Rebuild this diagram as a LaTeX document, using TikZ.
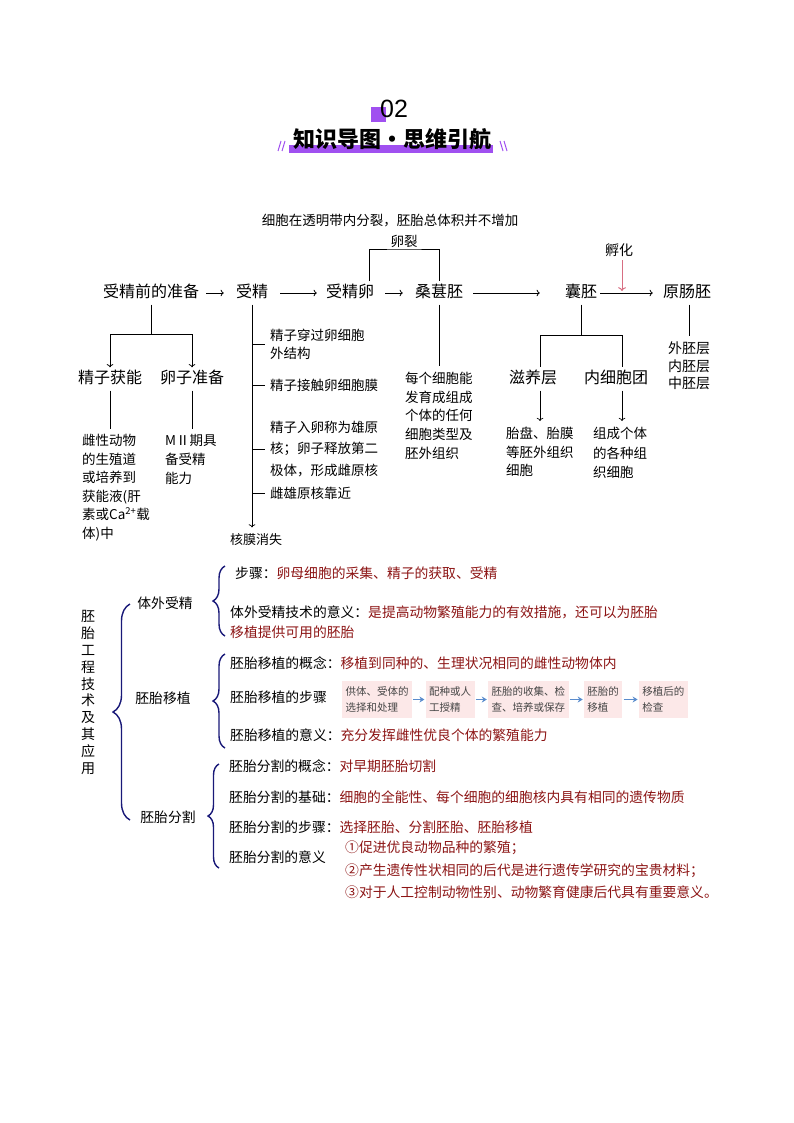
\documentclass[tikz,border=0pt]{standalone}
\usepackage{fontspec}
\setmainfont{Noto Sans CJK SC}
\newfontfamily\numfont{Liberation Sans}
\usetikzlibrary{positioning,decorations.pathreplacing,arrows.meta}

\definecolor{headpurple}{RGB}{160,80,240}
\definecolor{deepred}{RGB}{140,20,20}
\definecolor{bracenavy}{RGB}{25,25,120}
\definecolor{hatchred}{RGB}{215,110,130}
\definecolor{boxpink}{RGB}{252,232,232}
\definecolor{boxgray}{RGB}{70,70,70}
\definecolor{flowblue}{RGB}{90,140,205}

\newcommand{\hl}[1]{\textcolor{deepred}{#1}}

\tikzset{
  stage/.style={font=\fontsize{16}{18}\selectfont, inner xsep=0pt, inner ysep=4pt, text height=12pt, text depth=3pt},
  note/.style={font=\fontsize{13.5}{18.6}\selectfont, align=left, inner sep=0pt, anchor=north west},
  branch/.style={font=\fontsize{13.5}{21.5}\selectfont, align=left, inner xsep=5pt, inner ysep=0pt, anchor=west},
  item/.style={font=\fontsize{13.8}{20}\selectfont, inner sep=0pt, anchor=west, text height=11.5pt, text depth=2pt},
  part/.style={font=\fontsize{13.8}{16}\selectfont, inner sep=1pt},
  stepbox/.style={fill=boxpink, text=boxgray, font=\fontsize{10.5}{16.5}\selectfont, align=left, inner xsep=3.5pt, minimum height=37pt},
  flow/.style={draw=flowblue, line width=1.3pt, -{Stealth[length=5pt,width=6pt]}, shorten <=1pt, shorten >=1pt},
  curly/.style={draw=bracenavy, line width=1.4pt, decorate},
  link/.style={line width=0.7pt},
}

\begin{document}
\begin{tikzpicture}[x=1pt,y=-1pt,>=To]

    \useasboundingbox (0,0) rectangle (794,1123);

    % header
    \fill[headpurple] (371,107) rectangle (386,122);
    \node[font=\numfont\fontsize{25}{25}\selectfont] (num) at (394,109) {02};
    \fill[headpurple] (289,145) rectangle (493,153);
    \node[font=\bfseries\fontsize{22}{22}\selectfont] (title) at (392,139) {知识导图·思维引航};
    \draw[headpurple, line width=1pt] (278,151) -- (281,141) (282,151) -- (285,141);
    \draw[headpurple, line width=1pt] (500,141) -- (503,151) (504,141) -- (507,151);

    % main chain
    \node[stage] (prep) at (151,293) {受精前的准备};
    \node[stage] (fert) at (252,293) {受精};
    \node[stage] (zyg) at (350,293) {受精卵};
    \node[stage] (mor) at (439,293) {桑葚胚};
    \node[stage] (blast) at (581,293) {囊胚};
    \node[stage] (gast) at (687,293) {原肠胚};

    \draw[link,->,shorten <=7pt,shorten >=12pt] (prep) -- (fert);
    \draw[link,->,shorten <=12pt,shorten >=9pt] (fert) -- (zyg);
    \draw[link,->,shorten <=11pt,shorten >=12pt] (zyg) -- (mor);
    \draw[link,->,shorten <=10pt,shorten >=25pt] (mor) -- (blast);
    \draw[link,->,shorten <=3pt,shorten >=10pt] (blast) -- (gast);

    \node[font=\fontsize{13.5}{16}\selectfont] (caption) at (390,221) {细胞在透明带内分裂，胚胎总体积并不增加};
    \node[font=\fontsize{13.5}{16}\selectfont, anchor=south, inner sep=1pt] (cleave) at (404,249) {卵裂};
    \draw[link] ([xshift=-5pt]zyg.north east) |- (cleave.south) -| (mor.north);

    \node[font=\fontsize{14}{16}\selectfont] (hatch) at (619,250) {孵化};
    \draw[hatchred, line width=1pt, ->, shorten >=2pt] ([xshift=3pt]hatch.south) -- ([xshift=3pt]hatch.south |- blast.east);

    % before fertilization
    \draw[link] (prep.south) -- ++(0,30) coordinate (prepfork);
    \node[stage] (cap) at (110,379) {精子获能};
    \node[stage] (eggprep) at (192,379) {卵子准备};
    \draw[link,->] (prepfork) -| (cap.north);
    \draw[link,->] (prepfork) -| (eggprep.north);

    \node[note] (capnote) at (82,434) {雌性动物\\的生殖道\\或培养到\\获能液(肝\\素或Ca\textsuperscript{2+}载\\体)中};
    \node[note, font=\fontsize{13.5}{19}\selectfont] (eggnote) at (165,434) {MⅡ期具\\备受精\\能力};
    \draw[link,shorten >=5pt] (cap.south) -- (cap.south |- capnote.north);
    \draw[link,shorten >=5pt] (eggprep.south) -- (eggprep.south |- eggnote.north);

    % fertilization
    \node[branch, font=\fontsize{13.5}{18}\selectfont] (pass) at (265,344) {精子穿过卵细胞\\外结构};
    \node[branch] (touch) at (265,385) {精子接触卵细胞膜};
    \node[branch] (enter) at (265,449) {精子入卵称为雄原\\核；卵子释放第二\\极体，形成雌原核};
    \node[branch] (near) at (265,493) {雌雄原核靠近};
    \node[font=\fontsize{13}{16}\selectfont] (nucleus) at (256,540) {核膜消失};
    \draw[link,->,shorten >=3pt] (fert.south) -- (fert.south |- nucleus.north);
    \foreach \b in {pass,touch,enter,near}
        \draw[link] (\b.west -| fert.south) -- (\b.west);

    % morula
    \node[note] (mornote) at (405,372) {每个细胞能\\发育成组成\\个体的任何\\细胞类型及\\胚外组织};
    \draw[link,shorten >=6pt] (mor.south) -- (mor.south |- mornote.north);

    % blastocyst
    \draw[link] (blast.south) -- ++(0,31) coordinate (blastfork);
    \node[stage] (troph) at (533,379) {滋养层};
    \node[stage] (icm) at (616,379) {内细胞团};
    \draw[link] (blastfork) -| ([xshift=7pt]troph.north);
    \draw[link] (blastfork) -| ([xshift=6pt]icm.north);
    \node[note] (trophnote) at (506,427) {胎盘、胎膜\\等胚外组织\\细胞};
    \node[note, font=\fontsize{13.5}{19.5}\selectfont] (icmnote) at (593,427) {组成个体\\的各种组\\织细胞};
    \draw[link,->,shorten >=6pt] ([xshift=7pt]troph.south) -- ([xshift=7pt]troph.south |- trophnote.north);
    \draw[link,->,shorten >=6pt] ([xshift=6pt]icm.south) -- ([xshift=6pt]icm.south |- icmnote.north);

    % gastrula
    \node[note, font=\fontsize{14}{17.5}\selectfont] (germ) at (668,342) {外胚层\\内胚层\\中胚层};
    \draw[link,shorten >=6pt] ([xshift=2pt]gast.south) -- ([xshift=2pt]gast.south |- germ.north);

    % embryo engineering
    \node[font=\fontsize{14}{16.8}\selectfont, align=center, inner sep=0pt] (topic) at (88,692.5) {胚\\胎\\工\\程\\技\\术\\及\\其\\应\\用};
    \draw[curly, decoration={brace,amplitude=17pt}] (130,820) -- (130,604);

    \node[part] (ivf) at (165,603) {体外受精};
    \node[part] (transfer) at (163,698) {胚胎移植};
    \node[part] (split) at (168,817) {胚胎分割};

    \draw[curly, decoration={brace,amplitude=12pt}] (225,636) -- (225,566);
    \draw[curly, decoration={brace,amplitude=12pt}] (225,748) -- (225,654);
    \draw[curly, decoration={brace,amplitude=11pt}] (219,868) -- (219,764);

    \node[item] (ivfstep) at (235,574) {步骤：\hl{卵母细胞的采集、精子的获取、受精}};
    \node[font=\fontsize{13.8}{20}\selectfont, align=left, inner sep=0pt, anchor=north west] (ivfmean) at (230,606) {体外受精技术的意义：\hl{是提高动物繁殖能力的有效措施，还可以为胚胎}\\\hl{移植提供可用的胚胎}};

    \node[item] (etdef) at (230,664) {胚胎移植的概念：\hl{移植到同种的、生理状况相同的雌性动物体内}};
    \node[item] (etstep) at (230,698) {胚胎移植的步骤};
    \node[item] (etmean) at (230,736) {胚胎移植的意义：\hl{充分发挥雌性优良个体的繁殖能力}};

    \node[stepbox, anchor=west] (sb1) at (342,699.5) {供体、受体的\\选择和处理};
    \node[stepbox, right=13pt of sb1] (sb2) {配种或人\\工授精};
    \node[stepbox, right=13pt of sb2] (sb3) {胚胎的收集、检\\查、培养或保存};
    \node[stepbox, right=15pt of sb3] (sb4) {胚胎的\\移植};
    \node[stepbox, right=16pt of sb4] (sb5) {移植后的\\检查};
    \foreach \a/\b in {sb1/sb2,sb2/sb3,sb3/sb4,sb4/sb5}
        \draw[flow] (\a) -- (\b);

    \node[item] (esdef) at (229,767) {胚胎分割的概念：\hl{对早期胚胎切割}};
    \node[item] (esbase) at (229,798) {胚胎分割的基础：\hl{细胞的全能性、每个细胞的细胞核内具有相同的遗传物质}};
    \node[item] (esstep) at (229,828) {胚胎分割的步骤：\hl{选择胚胎、分割胚胎、胚胎移植}};
    \node[item] (esmean) at (229,858) {胚胎分割的意义};
    \node[item] (use1) at (345,848) {\hl{①促进优良动物品种的繁殖；}};
    \node[item] (use2) at (345,871) {\hl{②产生遗传性状相同的后代是进行遗传学研究的宝贵材料；}};
    \node[item] (use3) at (345,893) {\hl{③对于人工控制动物性别、动物繁育健康后代具有重要意义。}};

\end{tikzpicture}
\end{document}
